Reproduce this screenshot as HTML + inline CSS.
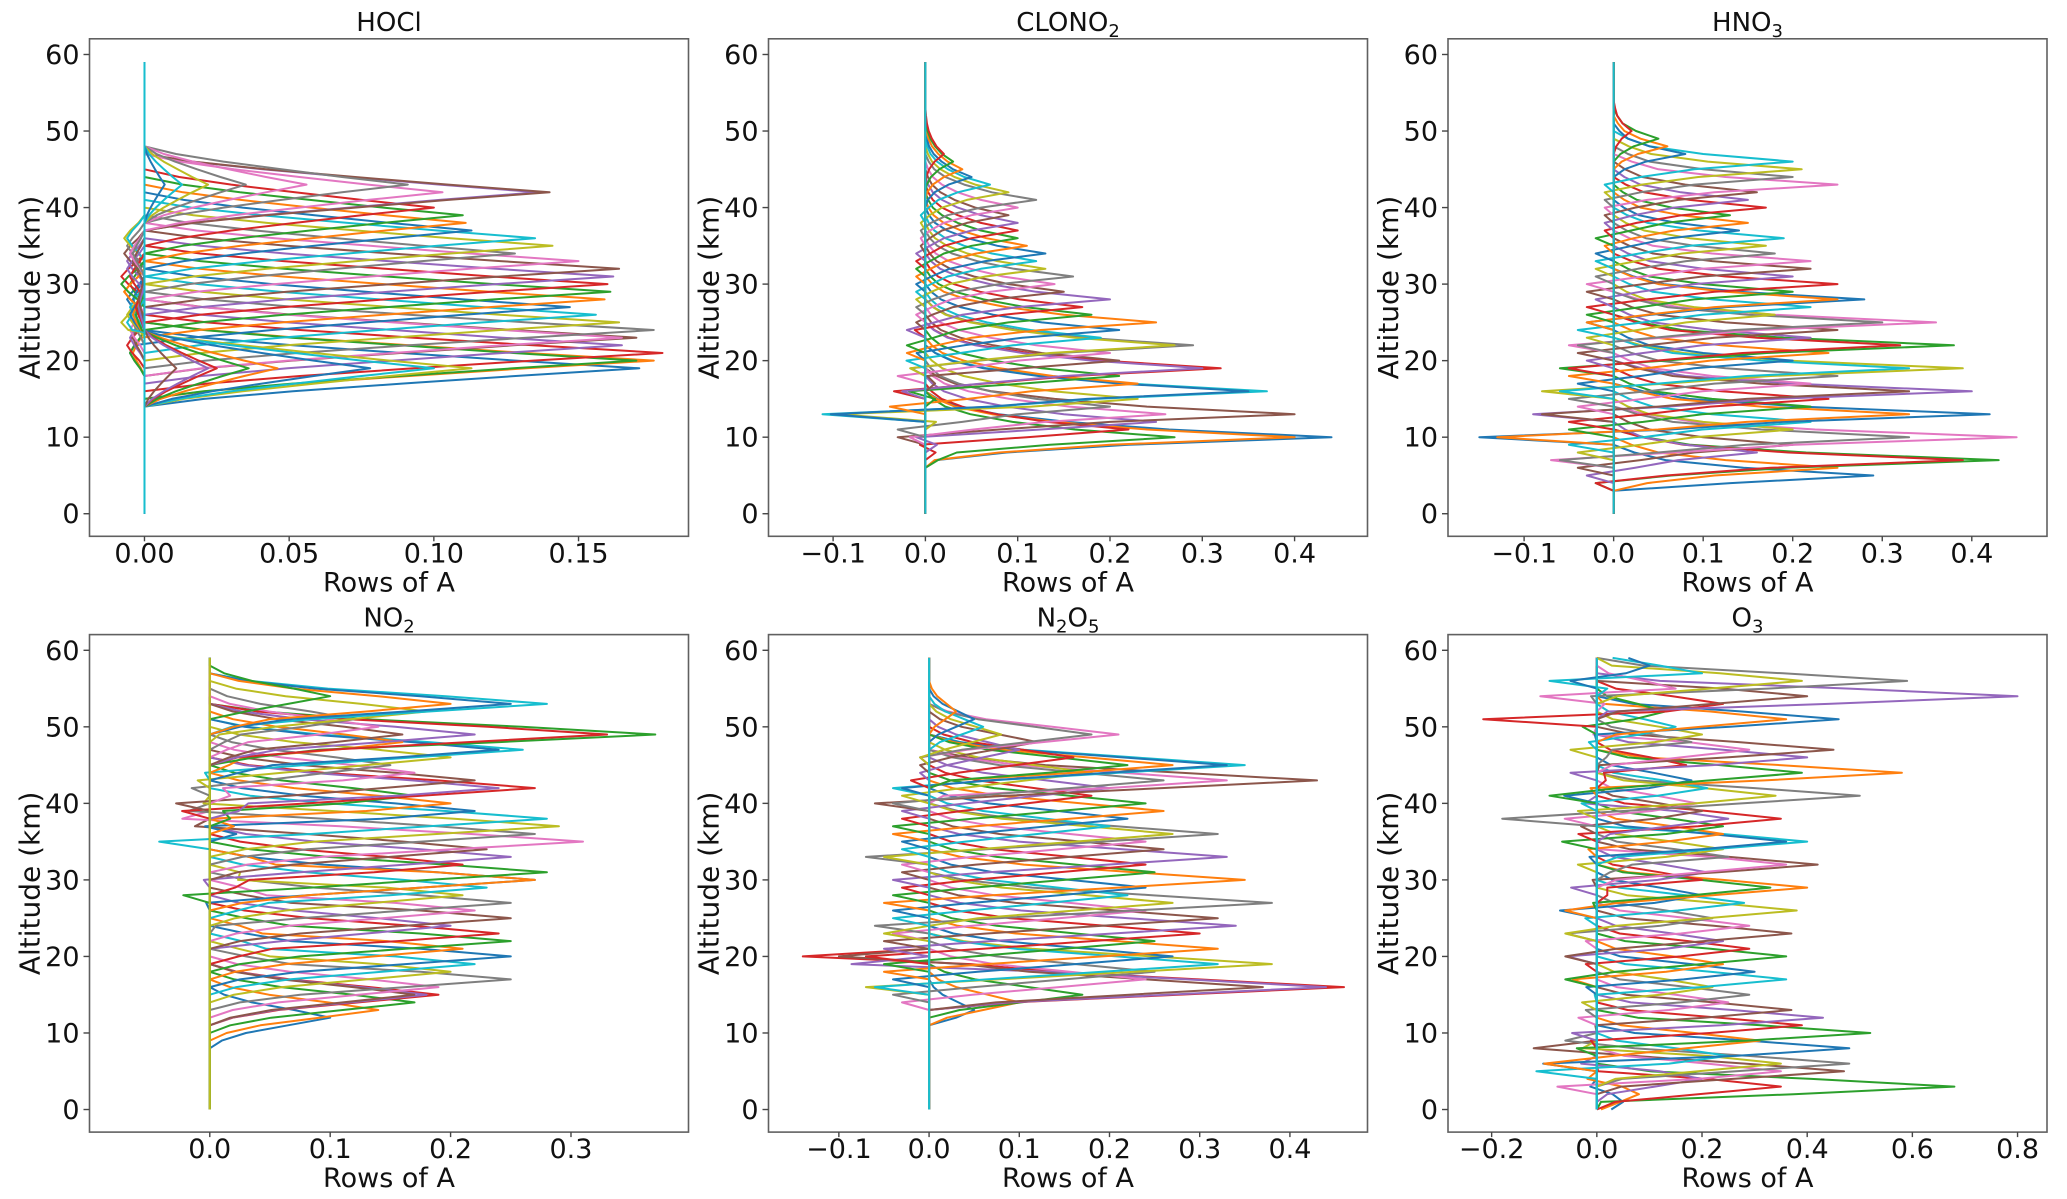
<!DOCTYPE html>
<html><head><meta charset="utf-8"><style>
html,body{margin:0;padding:0;background:#fff;}
svg{display:block;font-family:"DejaVu Sans","Liberation Sans",sans-serif;}
</style></head><body>
<svg id="fig" xmlns="http://www.w3.org/2000/svg" width="2067" height="1199" viewBox="0 0 2067 1199"></svg>
<script>
// ---------- data ----------
const altitudeGrid = [0,1,2,3,4,5,6,7,8,9,10,11,12,13,14,15,16,17,18,19,20,21,22,23,24,25,26,27,28,29,30,31,32,33,34,35,36,37,38,39,40,41,42,43,44,45,46,47,48,49,50,51,52,53,54,55,56,57,58,59];
const yTickLabels = [0,10,20,30,40,50,60];

const hoclPeakAlt = [19,20,20,21,22,23,23,24,25,26,27,28,29,30,31,32,33,34,35,36,37,38,39,40,42,42,42,43,19,19,19,19,19,19,19,19,43,43,43,43,43];
const hoclPeakVal = [0.171,0.176,0.170,0.179,0.165,0.170,0.165,0.176,0.164,0.156,0.147,0.159,0.161,0.160,0.162,0.164,0.150,0.128,0.141,0.135,0.113,0.111,0.110,0.100,0.136,0.140,0.103,0.091,0.113,0.100,0.078,0.046,0.036,0.025,0.022,0.011,0.056,0.035,0.022,0.013,0.007];
const hoclNegAlt = [28,29,30,31,33,34,34,35,36,36,21,21,21,22,23,23,24,25,26,27,28,29,30,31,32,33,34,34,25,25,26,26,26,27,27,28,35,35,35,35,35];
const hoclNegVal = [-0.006,-0.007,-0.005,-0.008,-0.006,-0.007,-0.005,-0.006,-0.007,-0.006,-0.005,-0.004,-0.005,-0.006,-0.005,-0.004,-0.005,-0.004,-0.006,-0.005,-0.004,-0.007,-0.008,-0.005,-0.006,-0.004,-0.005,-0.004,-0.008,-0.006,-0.005,-0.004,-0.003,-0.003,-0.002,-0.002,0,0,0,0,0];
const hoclXTicks = [0.00,0.05,0.10,0.15];
const hoclXTickLabels = ["0.00","0.05","0.10","0.15"];

const clonoPeakAlt = [10,10,10,11,12,13,13,14,15,16,16,17,18,19,19,20,21,22,22,23,24,25,26,27,28,29,30,31,32,33,34,35,36,37,38,39,40,41,42,43,44,45,46,47];
const clonoPeakVal = [0.44,0.40,0.27,0.22,0.25,0.40,0.26,0.20,0.23,0.37,0.35,0.23,0.21,0.32,0.30,0.21,0.20,0.29,0.27,0.19,0.21,0.25,0.18,0.17,0.20,0.15,0.14,0.16,0.13,0.12,0.13,0.11,0.10,0.10,0.10,0.09,0.10,0.12,0.09,0.07,0.05,0.04,0.03,0.02];
const clonoNegAlt = [7,7,8,9,10,10,10,11,13,13,13,14,16,16,16,18,18,19,19,20,21,21,22,24,24,25,26,27,28,29,30,31,32,33,34,35,36,37,38,39,40,41,42,43];
const clonoNegVal = [-0.01,-0.01,-0.02,-0.05,-0.06,-0.05,-0.03,-0.04,-0.14,-0.13,-0.12,-0.05,-0.06,-0.05,-0.04,-0.04,-0.04,-0.03,-0.03,-0.03,-0.02,-0.02,-0.02,-0.02,-0.02,-0.01,-0.01,-0.01,-0.01,-0.01,-0.01,-0.01,-0.01,-0.01,-0.01,-0.005,-0.005,-0.005,-0.005,-0.005,0,0,0,0];
const clonoXTicks = [-0.1,0.0,0.1,0.2,0.3,0.4];
const clonoXTickLabels = ["\u22120.1","0.0","0.1","0.2","0.3","0.4"];

const hno3PeakAlt = [5,6,7,7,8,9,10,10,11,12,13,13,14,15,16,16,17,18,19,19,20,21,22,22,23,24,25,25,26,27,28,28,29,30,31,32,33,34,35,36,37,38,39,40,41,42,43,44,45,46,47,48,49,50];
const hno3PeakVal = [0.29,0.25,0.43,0.39,0.16,0.20,0.45,0.33,0.20,0.22,0.42,0.33,0.22,0.24,0.40,0.33,0.22,0.25,0.39,0.33,0.20,0.24,0.38,0.32,0.22,0.25,0.36,0.30,0.18,0.22,0.28,0.25,0.20,0.25,0.20,0.22,0.22,0.18,0.17,0.19,0.14,0.15,0.13,0.17,0.15,0.16,0.25,0.20,0.21,0.20,0.08,0.06,0.05,0.02];
const hno3NegAlt = [4,4,4,4,5,6,7,7,8,9,10,10,11,12,13,13,14,15,16,16,17,18,19,19,20,21,22,22,23,24,25,25,26,27,28,29,30,31,32,33,34,35,36,37,38,39,40,41,42,43,44,45,46,47];
const hno3NegVal = [0,0,-0.02,-0.02,-0.03,-0.04,-0.07,-0.06,-0.04,-0.05,-0.15,-0.13,-0.05,-0.05,-0.09,-0.08,-0.04,-0.05,-0.08,-0.06,-0.04,-0.05,-0.06,-0.05,-0.03,-0.04,-0.05,-0.04,-0.03,-0.04,-0.03,-0.03,-0.03,-0.03,-0.02,-0.03,-0.03,-0.02,-0.02,-0.02,-0.02,-0.01,-0.02,-0.01,-0.01,-0.01,-0.01,-0.01,-0.01,-0.01,0,0,0,0];
const hno3XTicks = [-0.1,0.0,0.1,0.2,0.3,0.4];
const hno3XTickLabels = ["\u22120.1","0.0","0.1","0.2","0.3","0.4"];

const no2PeakAlt = [12,13,14,15,15,15,16,17,18,19,20,21,22,23,24,25,26,27,28,29,30,30,31,32,33,34,35,36,37,38,39,40,41,42,42,43,44,45,46,47,47,48,49,49,49,49,50,51,52,53,53,53,54];
const no2PeakVal = [0.10,0.14,0.17,0.19,0.18,0.17,0.19,0.25,0.20,0.22,0.25,0.21,0.25,0.24,0.20,0.25,0.22,0.25,0.21,0.23,0.27,0.27,0.28,0.21,0.25,0.23,0.31,0.27,0.29,0.28,0.22,0.20,0.17,0.27,0.24,0.22,0.17,0.15,0.20,0.26,0.24,0.16,0.37,0.33,0.22,0.16,0.14,0.12,0.18,0.28,0.25,0.20,0.10];
const no2NegAlt = [10,10,11,12,12,12,13,19,20,21,22,23,24,21,21,27,28,24,30,27,27,32,28,30,30,37,38,39,40,35,37,38,39,39,40,40,42,42,43,44,45,46,47,46,47,47,48,49,49,50,51,51,51];
const no2NegVal = [0,0,0,0,0,0,0,-0.02,-0.02,-0.03,-0.02,-0.03,-0.02,-0.02,-0.02,-0.02,-0.03,-0.02,-0.05,-0.02,-0.03,-0.04,-0.05,-0.03,-0.03,-0.04,-0.06,-0.05,-0.04,-0.07,-0.07,-0.06,-0.04,-0.05,-0.04,-0.05,-0.04,-0.03,-0.03,-0.03,-0.02,-0.02,-0.02,-0.01,-0.01,-0.01,-0.01,-0.01,-0.01,-0.01,-0.01,-0.01,-0.01];
const no2XTicks = [0.0,0.1,0.2,0.3];
const no2XTickLabels = ["0.0","0.1","0.2","0.3"];

const n2o5PeakAlt = [13,14,15,16,16,16,17,18,19,19,20,21,22,23,24,25,26,27,27,28,29,30,31,32,33,34,35,36,36,37,38,39,40,41,42,43,43,43,44,45,45,45,45,46,47,48,49,49,49,50,51,52];
const n2o5PeakVal = [0.05,0.10,0.17,0.46,0.44,0.37,0.24,0.25,0.38,0.32,0.27,0.32,0.25,0.30,0.34,0.32,0.24,0.38,0.27,0.22,0.24,0.35,0.25,0.24,0.33,0.26,0.24,0.32,0.27,0.20,0.22,0.26,0.24,0.18,0.20,0.43,0.33,0.26,0.18,0.35,0.33,0.27,0.22,0.16,0.10,0.12,0.21,0.18,0.08,0.06,0.05,0.03];
const n2o5NegAlt = [12,12,12,20,19,20,14,15,16,16,17,18,19,20,21,22,23,24,23,25,26,27,28,29,30,31,32,33,33,34,35,36,37,38,39,40,41,40,41,42,42,43,43,43,44,45,46,46,46,47,48,49];
const n2o5NegVal = [0,0,0,-0.14,-0.13,-0.10,-0.03,-0.04,-0.07,-0.06,-0.04,-0.05,-0.05,-0.07,-0.05,-0.05,-0.04,-0.06,-0.05,-0.04,-0.04,-0.05,-0.04,-0.03,-0.04,-0.03,-0.03,-0.07,-0.05,-0.03,-0.03,-0.04,-0.04,-0.03,-0.03,-0.06,-0.05,-0.04,-0.03,-0.04,-0.03,-0.03,-0.02,-0.02,-0.01,-0.01,-0.01,-0.01,-0.01,0,0,0];
const n2o5XTicks = [-0.1,0.0,0.1,0.2,0.3,0.4];
const n2o5XTickLabels = ["\u22120.1","0.0","0.1","0.2","0.3","0.4"];

const o3PeakAlt = [1,2,3,3,4,5,5,6,6,7,8,9,10,11,12,13,14,15,16,17,18,19,20,21,22,23,24,25,26,27,28,29,29,30,31,32,32,33,34,35,35,36,37,38,38,39,40,41,41,42,43,44,44,45,46,47,47,48,49,50,51,51,52,53,54,54,55,56,56,57,58];
const o3PeakVal = [0.05,0.08,0.68,0.35,0.20,0.47,0.35,0.48,0.35,0.25,0.48,0.31,0.52,0.39,0.43,0.37,0.25,0.29,0.22,0.36,0.30,0.24,0.36,0.29,0.24,0.37,0.29,0.22,0.38,0.28,0.20,0.40,0.33,0.20,0.21,0.42,0.36,0.25,0.24,0.40,0.36,0.24,0.24,0.35,0.25,0.20,0.19,0.50,0.34,0.21,0.18,0.58,0.39,0.17,0.40,0.45,0.29,0.18,0.20,0.15,0.46,0.36,0.13,0.24,0.80,0.40,0.15,0.59,0.39,0.20,0.10];
const o3NegAlt = [3,4,1,5,6,8,3,9,8,5,6,6,8,9,10,11,12,13,14,15,16,17,17,19,20,20,22,23,23,25,26,26,27,29,29,30,34,32,32,37,33,34,35,36,40,37,38,38,39,40,41,42,41,44,44,45,49,47,47,48,49,53,50,51,52,56,54,54,58,56,56];
const o3NegVal = [-0.02,-0.03,-0.06,-0.05,-0.06,-0.12,-0.11,-0.06,-0.08,-0.14,-0.15,-0.10,-0.09,-0.05,-0.09,-0.04,-0.06,-0.05,-0.05,-0.04,-0.05,-0.07,-0.06,-0.05,-0.08,-0.06,-0.05,-0.08,-0.06,-0.05,-0.09,-0.06,-0.04,-0.09,-0.07,-0.05,-0.05,-0.07,-0.06,-0.06,-0.05,-0.04,-0.09,-0.07,-0.06,-0.05,-0.08,-0.18,-0.07,-0.05,-0.08,-0.07,-0.09,-0.08,-0.09,-0.04,-0.05,-0.07,-0.07,-0.03,-0.05,-0.04,-0.04,-0.24,-0.06,-0.06,-0.19,-0.07,-0.03,-0.20,-0.06];
const o3XTicks = [-0.2,0.0,0.2,0.4,0.6,0.8];
const o3XTickLabels = ["\u22120.2","0.0","0.2","0.4","0.6","0.8"];

// ---------- layout / style ----------
const NS = "http://www.w3.org/2000/svg";
const svg = document.getElementById('fig');
const colors = ["#1f77b4","#ff7f0e","#2ca02c","#d62728","#9467bd","#8c564b","#e377c2","#7f7f7f","#bcbd22","#17becf"];
const AXW = 599, AXH = 497.5, YMIN = -2.95, YMAX = 62.05;

const panels = [
 {key:'hocl', title:['HOCl',''], left:89.5, top:38.8, xmin:-0.019, xmax:0.188, minAlt:12,
  peakAlt:hoclPeakAlt, peakVal:hoclPeakVal, negAlt:hoclNegAlt, negVal:hoclNegVal, ticks:hoclXTicks, tickLabels:hoclXTickLabels,
  kOff:[-4,-3,-2,-1,0,1,2,3,4], kW:[0.12,0.3,0.52,0.75,1,0.75,0.52,0.3,0.12], nOff:[-2,-1,0,1,2], nW:[0.3,0.7,1,0.7,0.3], base:'#17becf'},
 {key:'clono2', title:['CLONO','2'], left:768.5, top:38.8, xmin:-0.170, xmax:0.479, minAlt:7,
  peakAlt:clonoPeakAlt, peakVal:clonoPeakVal, negAlt:clonoNegAlt, negVal:clonoNegVal, ticks:clonoXTicks, tickLabels:clonoXTickLabels,
  kOff:[-3,-2,-1,0,1,2,3,4,5], kW:[0.05,0.2,0.5,1,0.6,0.35,0.18,0.08,0.03], nOff:[0], nW:[1], base:'#17becf'},
 {key:'hno3', title:['HNO','3'], left:1448, top:38.8, xmin:-0.185, xmax:0.484, minAlt:4,
  peakAlt:hno3PeakAlt, peakVal:hno3PeakVal, negAlt:hno3NegAlt, negVal:hno3NegVal, ticks:hno3XTicks, tickLabels:hno3XTickLabels,
  kOff:[-2,-1,0,1,2,3], kW:[0.15,0.45,1,0.5,0.2,0.08], nOff:[0], nW:[1], base:'#17becf'},
 {key:'no2', title:['NO','2'], left:89.5, top:634.6, xmin:-0.0999, xmax:0.3976, minAlt:9,
  peakAlt:no2PeakAlt, peakVal:no2PeakVal, negAlt:no2NegAlt, negVal:no2NegVal, ticks:no2XTicks, tickLabels:no2XTickLabels,
  kOff:[-3,-2,-1,0,1,2,3], kW:[0.1,0.3,0.65,1,0.7,0.35,0.12], nOff:[0], nW:[1], base:'#bcbd22'},
 {key:'n2o5', title:['N','2','O','5'], left:768.5, top:634.6, xmin:-0.178, xmax:0.486, minAlt:12,
  peakAlt:n2o5PeakAlt, peakVal:n2o5PeakVal, negAlt:n2o5NegAlt, negVal:n2o5NegVal, ticks:n2o5XTicks, tickLabels:n2o5XTickLabels,
  kOff:[-2,-1,0,1,2,3], kW:[0.2,0.6,1,0.65,0.3,0.1], nOff:[0], nW:[1], base:'#17becf'},
 {key:'o3', title:['O','3'], left:1448, top:634.6, xmin:-0.283, xmax:0.856, minAlt:0,
  peakAlt:o3PeakAlt, peakVal:o3PeakVal, negAlt:o3NegAlt, negVal:o3NegVal, ticks:o3XTicks, tickLabels:o3XTickLabels,
  kOff:[-2,-1,0,1,2], kW:[0.1,0.55,1,0.6,0.15], nOff:[0], nW:[1], base:'#17becf'}
];

function mk(tag, attrs, parent){
  const e = document.createElementNS(NS, tag);
  for (const k in attrs) e.setAttribute(k, attrs[k]);
  (parent||svg).appendChild(e);
  return e;
}

panels.forEach((p, pi) => {
  const xScale = v => p.left + (v - p.xmin) / (p.xmax - p.xmin) * AXW;
  const yScale = a => p.top + (YMAX - a) / (YMAX - YMIN) * AXH;
  const g = mk('g', {});
  
  

  const clip = mk('clipPath', {id:'clip'+pi}, g);
  mk('rect', {x:p.left, y:p.top, width:AXW, height:AXH}, clip);

  const lines = mk('g', {'clip-path':'url(#clip'+pi+')'}, g);
  
  

  p.peakAlt.forEach((pa, i) => {
    const vals = altitudeGrid.map(() => 0);
    const v = p.peakVal[i] || 0;
    p.kOff.forEach((o, k) => {
      const a = pa + o;
      if (a >= 0 && a < vals.length && a >= p.minAlt) vals[a] += v * p.kW[k];
    });
    const na = p.negAlt[i], nv = p.negVal[i] || 0;
    p.nOff.forEach((o, k) => {
      const a = na + o;
      if (a >= 0 && a < vals.length && a >= p.minAlt) vals[a] += nv * p.nW[k];
    });
    const d = altitudeGrid.map((a, j) => (j ? 'L' : 'M') + xScale(vals[j]).toFixed(1) + ',' + yScale(a).toFixed(1)).join('');
    const path = mk('path', {d:d, fill:'none', stroke:colors[i % 10], 'stroke-width':2.0, 'stroke-linejoin':'round'}, lines);
    
    
  });
  const bl = mk('path', {d:'M'+xScale(0)+','+yScale(0)+'L'+xScale(0)+','+yScale(59), stroke:p.base, 'stroke-width':2, fill:'none'}, lines);
  
  

  const fr = mk('rect', {x:p.left, y:p.top, width:AXW, height:AXH, fill:'none', stroke:'#606060', 'stroke-width':1.6}, g);
  
  

  yTickLabels.forEach(t => {
    const y = yScale(t);
    mk('line', {x1:p.left-6, x2:p.left, y1:y, y2:y, stroke:'#444', 'stroke-width':1.4}, g);
    const tx = mk('text', {x:p.left-10, y:y+9.5, 'text-anchor':'end', 'font-size':27, fill:'#111'}, g);
    tx.textContent = t;
    
    
  });
  p.ticks.forEach((t, i) => {
    const x = xScale(t);
    const yb = p.top + AXH;
    mk('line', {x1:x, x2:x, y1:yb, y2:yb+5, stroke:'#444', 'stroke-width':1.4}, g);
    const tx = mk('text', {x:x, y:yb+26, 'text-anchor':'middle', 'font-size':27, fill:'#111'}, g);
    tx.textContent = p.tickLabels[i];
    
    
  });
  const xl = mk('text', {x:p.left+AXW/2, y:p.top+AXH+55, 'text-anchor':'middle', 'font-size':27, fill:'#111'}, g);
  xl.textContent = 'Rows of A';
  
  
  const yc = p.top + AXH/2;
  const yl = mk('text', {x:0, y:0, 'text-anchor':'middle', 'font-size':28, fill:'#111', transform:'translate('+(p.left-50)+','+yc+') rotate(-90)'}, g);
  yl.textContent = 'Altitude (km)';
  
  
  const tt = mk('text', {x:p.left+AXW/2, y:p.top-8, 'text-anchor':'middle', 'font-size':26, fill:'#111'}, g);
  
  
  p.title.forEach((part, k) => {
    if (!part) return;
    const ts = document.createElementNS(NS, 'tspan');
    ts.textContent = part;
    if (k % 2 === 1) { ts.setAttribute('font-size', 18); ts.setAttribute('dy', 6); }
    else if (k > 0) { ts.setAttribute('dy', -6); }
    tt.appendChild(ts);
  });
});
</script>
</body></html>
